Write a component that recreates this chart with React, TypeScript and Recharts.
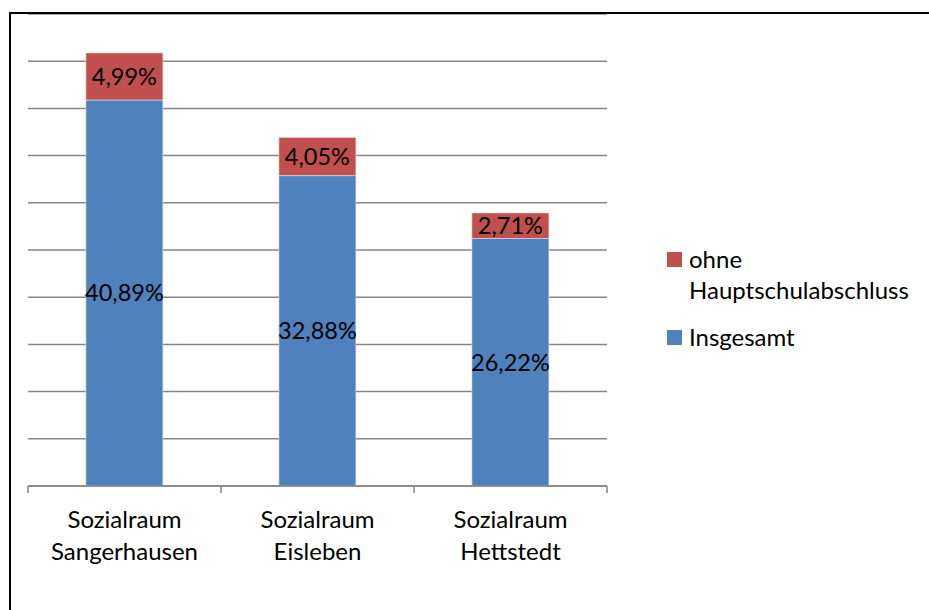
import React from 'react';
import { BarChart, Bar, XAxis, YAxis, CartesianGrid, LabelList, Legend } from 'recharts';

const categories = ['Sozialraum Sangerhausen', 'Sozialraum Eisleben', 'Sozialraum Hettstedt'];
const insgesamt = [40.89, 32.88, 26.22];
const ohneAbschluss = [4.99, 4.05, 2.71];
const yTicks = [0, 5, 10, 15, 20, 25, 30, 35, 40, 45, 50];

const data = categories.map((c, i) => ({ name: c, insgesamt: insgesamt[i], ohne: ohneAbschluss[i] }));

const FONT = 'Lato, "Open Sans", sans-serif';
const AXIS = '#868686';
const fmt = (v: number) => v.toFixed(2).replace('.', ',') + '%';

const Tick = (props: any) => {
  const { x, y, payload, index, visibleTicksCount } = props;
  const half = payload && typeof payload.offset === 'number' && payload.offset > 0 ? payload.offset : 96.5;
  const parts = String(payload.value).split(' ');
  const baseY = y - 9;
  const isLast = index === (visibleTicksCount ?? categories.length) - 1;
  return (
    <g>
      <line x1={x - half} x2={x - half} y1={baseY} y2={baseY + 7} stroke={AXIS} strokeWidth={1.5} />
      {isLast && <line x1={x + half} x2={x + half} y1={baseY} y2={baseY + 7} stroke={AXIS} strokeWidth={1.5} />}
      {parts.map((p: string, i: number) => (
        <text key={i} x={x} y={baseY + 42 + i * 32} textAnchor="middle" fill="#000" fontSize={24} fontFamily={FONT}>
          {p}
        </text>
      ))}
    </g>
  );
};

const LegendContent = () => (
  <div style={{ fontFamily: FONT, fontSize: 24, color: '#000', lineHeight: '31px' }}>
    <div style={{ display: 'flex', alignItems: 'flex-start' }}>
      <span style={{ width: 15, height: 15, background: '#C0504D', marginTop: 9, marginRight: 7, flexShrink: 0 }} />
      <span>ohne<br />Hauptschulabschluss</span>
    </div>
    <div style={{ display: 'flex', alignItems: 'flex-start', marginTop: 16 }}>
      <span style={{ width: 15, height: 15, background: '#4F81BD', marginTop: 9, marginRight: 7, flexShrink: 0 }} />
      <span>Insgesamt</span>
    </div>
  </div>
);

export default function App() {
  return (
    <div style={{ position: 'absolute', left: 0, top: 0, width: 929, height: 610, overflow: 'hidden', background: '#fff' }}>
      <div style={{ position: 'absolute', left: 0, top: 0 }}>
        <BarChart width={929} height={610} data={data} margin={{ top: 14, left: 28, right: 322, bottom: 64 }} barCategoryGap="30%">
          <CartesianGrid vertical={false} stroke={AXIS} strokeWidth={1.5} />
          <YAxis hide domain={[0, 50]} ticks={yTicks} type="number" />
          <XAxis dataKey="name" height={60} interval={0} tick={<Tick />} stroke={AXIS} strokeWidth={1.5} tickSize={7} tickLine={false} />
          <Bar dataKey="insgesamt" stackId="a" fill="#4F81BD" stroke="#dfe6f0" strokeWidth={0.6} isAnimationActive={false}>
            <LabelList dataKey="insgesamt" position="center" formatter={(v: any) => fmt(Number(v))} fill="#000" fontSize={23.5} fontFamily={FONT} />
          </Bar>
          <Bar dataKey="ohne" stackId="a" fill="#C0504D" stroke="#f0dede" strokeWidth={0.6} isAnimationActive={false}>
            <LabelList dataKey="ohne" position="center" formatter={(v: any) => fmt(Number(v))} fill="#000" fontSize={23.5} fontFamily={FONT} />
          </Bar>
          <Legend layout="horizontal" verticalAlign="middle" align="center" content={<LegendContent />} wrapperStyle={{ position: 'absolute', left: 667, top: 243, width: 260 }} />
        </BarChart>
      </div>
      <div style={{ position: 'absolute', left: 9, top: 12, width: 960, height: 640, borderTop: '2px solid #000', borderLeft: '2px solid #000', boxSizing: 'border-box', pointerEvents: 'none' }} />
    </div>
  );
}
